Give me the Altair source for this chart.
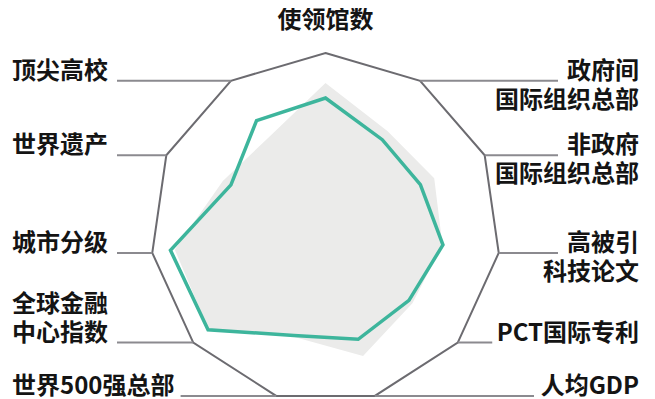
import math
import altair as alt
import pandas as pd

# ---------------- data ----------------
categories = [
    "使领馆数",
    "政府间\n国际组织总部",
    "非政府\n国际组织总部",
    "高被引\n科技论文",
    "PCT国际专利",
    "人均GDP",
    "世界500强总部",
    "全球金融\n中心指数",
    "城市分级",
    "世界遗产",
    "顶尖高校",
]
# teal outline series (0-100)
city_values = [74.3, 60.0, 59.6, 67.8, 63.1, 66.3, 64.0, 88.8, 89.5, 59.4, 72.9]
# light-grey filled reference series (0-100)
reference_values = [82.9, 65.7, 68.3, 67.5, 65.7, 76.2, 64.8, 88.5, 87.0, 64.5, 61.0]
max_value = 100.0

# ---------------- layout constants ----------------
W, H = 639, 391            # svg size
R_PX = 175.0               # radius of outer ring in px
CX, CY = 317.5, 220.0      # centre of radar inside the svg
FS = 24                    # label font size
LINE_H = 29                # label line height
LEFT_X, RIGHT_X = 4.0, 631.0   # label anchor positions (svg px)
GAP = 9                    # gap between text and leader line
TEXT_UP = 9                # label centre above leader line

x_dom = [(-CX) / R_PX, (W - CX) / R_PX]
y_dom = [(CY - H) / R_PX, CY / R_PX]

n = len(categories)
angles = [2 * math.pi * i / n for i in range(n)]


def pos(r, a):
    return r * math.sin(a), r * math.cos(a)


def text_width(s):
    narrow = {"P": 0.6, "C": 0.58, "T": 0.56, "G": 0.68, "D": 0.72}
    w = 0.0
    for ch in s:
        if ch.isdigit():
            w += 0.55
        elif ch in narrow:
            w += narrow[ch]
        else:
            w += 1.0
    return w * FS


rows = []
for series, vals in (("ring", [max_value] * n), ("ref", reference_values), ("city", city_values)):
    for i, v in enumerate(vals):
        x, y = pos(v / max_value, angles[i])
        rows.append({"series": series, "x": x, "y": y, "order": i})
poly = pd.DataFrame(rows)

leaders, labels = [], []
for i, cat in enumerate(categories):
    vx, vy = pos(1.0, angles[i])
    lines = cat.split("\n")
    if i == 0:
        labels.append({"x": 0.0, "y": vy + 32 / R_PX, "text": lines[0], "align": "center"})
        continue
    right = i <= (n - 1) // 2
    anchor = 0 if right else len(lines) - 1
    for k, ln in enumerate(lines):
        ty = vy + (TEXT_UP - (k - anchor) * LINE_H) / R_PX
        tx = (RIGHT_X - CX) / R_PX if right else (LEFT_X - CX) / R_PX
        labels.append({"x": tx, "y": ty, "text": ln, "align": "right" if right else "left"})
    aw = text_width(lines[anchor])
    if right:
        end = (RIGHT_X - aw - GAP - CX) / R_PX
    else:
        end = (LEFT_X + aw + GAP - CX) / R_PX
    leaders.append({"x": vx, "x2": end, "y": vy})

lead_df = pd.DataFrame(leaders)
lab_df = pd.DataFrame(labels)

xs = alt.Scale(domain=x_dom, nice=False, zero=False)
ys = alt.Scale(domain=y_dom, nice=False, zero=False)
X = alt.X("x:Q", scale=xs, axis=None)
Y = alt.Y("y:Q", scale=ys, axis=None)

base = alt.Chart(poly)

ref_area = base.transform_filter(alt.datum.series == "ref").mark_line(
    interpolate="linear-closed", fill="#ebebea", strokeOpacity=0
).encode(x=X, y=Y, order="order:Q")

ring = base.transform_filter(alt.datum.series == "ring").mark_line(
    interpolate="linear-closed", color="#6c6b70", strokeWidth=2
).encode(x=X, y=Y, order="order:Q")

city = base.transform_filter(alt.datum.series == "city").mark_line(
    interpolate="linear-closed", color="#3db59c", strokeWidth=3.5, strokeJoin="miter"
).encode(x=X, y=Y, order="order:Q")

lead = alt.Chart(lead_df).mark_rule(color="#8b8a8f", strokeWidth=2).encode(
    x=X, x2="x2:Q", y=Y
)

txt_kw = dict(font="Noto Sans CJK SC", fontSize=FS, fontWeight="bold", color="#141414", baseline="middle")
lab_left = alt.Chart(lab_df).transform_filter(alt.datum.align == "left").mark_text(align="left", **txt_kw).encode(
    x=X, y=Y, text="text:N"
)
lab_right = alt.Chart(lab_df).transform_filter(alt.datum.align == "right").mark_text(align="right", **txt_kw).encode(
    x=X, y=Y, text="text:N"
)
lab_center = alt.Chart(lab_df).transform_filter(alt.datum.align == "center").mark_text(align="center", **txt_kw).encode(
    x=X, y=Y, text="text:N"
)

chart = alt.layer(ref_area, ring, lead, city, lab_left, lab_right, lab_center).properties(
    width=W, height=H, padding=0, autosize=alt.AutoSizeParams(type="none")
).configure_view(strokeWidth=0)

chart.save("out.html", embed_options={"renderer": "svg", "actions": False})
